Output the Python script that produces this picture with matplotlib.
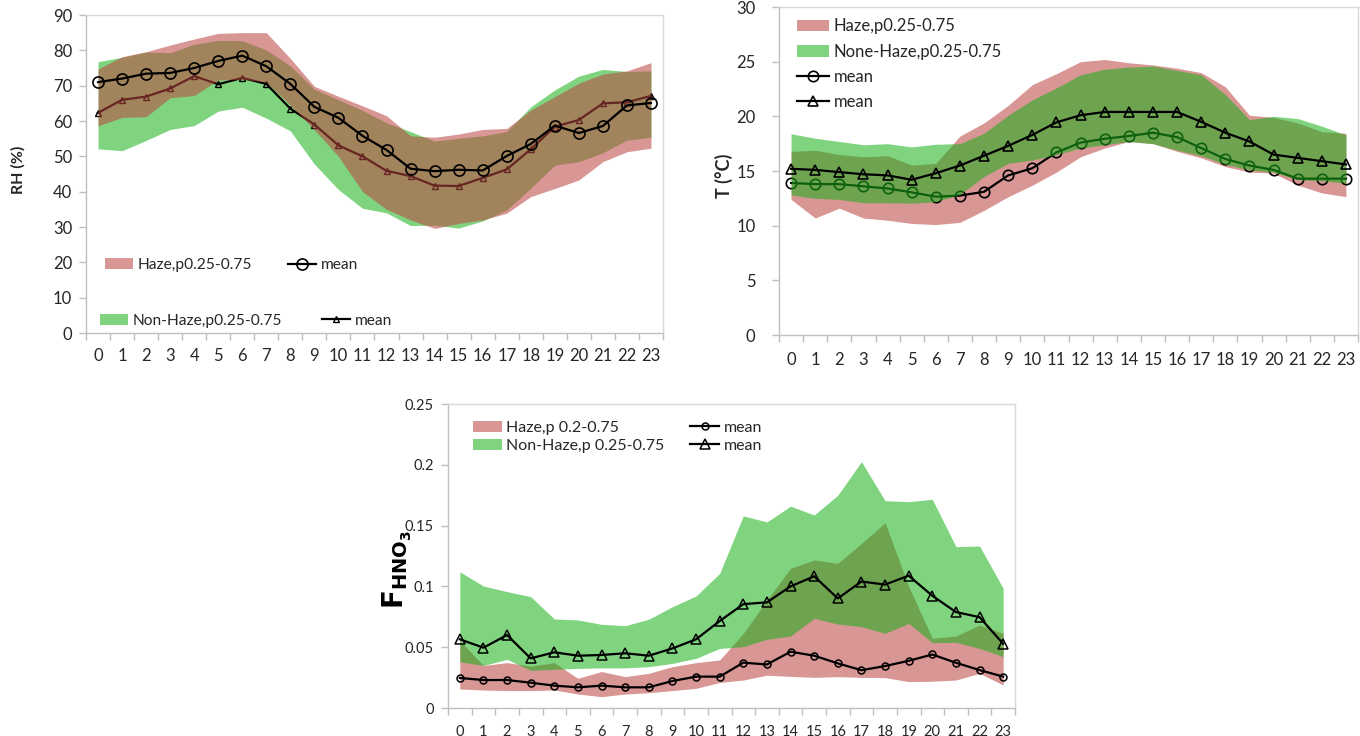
import numpy as np
import matplotlib
matplotlib.use("Agg")
import matplotlib.pyplot as plt

plt.rcParams['font.family'] = ['Lato', 'DejaVu Sans']

hours = list(range(24))
hour_labels = [str(h) for h in hours]

# ---------------- RH panel ----------------
rh_haze_mean = [71.0, 72.0, 73.4, 73.6, 75.0, 77.0, 78.5, 75.5, 70.5, 64.0, 60.9, 55.8,
                51.8, 46.5, 45.8, 46.2, 46.0, 50.1, 53.5, 58.7, 56.6, 58.6, 64.4, 65.1]
rh_non_mean = [62.3, 66.0, 66.9, 69.2, 72.7, 70.4, 72.2, 70.5, 63.5, 59.0, 53.1, 50.0,
               45.9, 44.4, 41.7, 41.6, 43.9, 46.3, 52.0, 58.4, 60.3, 65.0, 65.3, 67.1]
rh_haze_lo = [58.6, 61.0, 61.2, 66.6, 67.2, 71.6, 71.8, 71.0, 64.5, 57.5, 50.0, 40.0,
              35.0, 32.0, 29.6, 31.0, 32.0, 33.9, 38.6, 40.9, 43.3, 48.5, 51.3, 52.3]
rh_haze_hi = [74.7, 78.2, 79.6, 81.5, 83.2, 84.8, 85.0, 85.0, 77.7, 69.8, 67.0, 64.3,
              61.5, 55.8, 55.4, 56.3, 57.6, 57.9, 63.1, 66.9, 70.7, 73.3, 74.2, 76.5]
rh_non_lo = [52.1, 51.6, 54.5, 57.6, 58.7, 62.8, 63.9, 60.8, 57.2, 47.8, 40.6, 35.3,
             34.0, 30.4, 30.5, 29.7, 31.7, 34.8, 41.0, 47.5, 48.5, 51.0, 54.6, 55.4]
rh_non_hi = [76.8, 78.0, 79.5, 79.3, 81.7, 82.8, 82.7, 80.1, 75.6, 69.0, 66.0, 63.0,
             59.5, 57.0, 54.3, 55.1, 55.8, 57.0, 64.0, 68.8, 72.7, 74.6, 74.0, 74.2]
rh_yticks = [0, 10, 20, 30, 40, 50, 60, 70, 80, 90]
rh_yticklabels = ['0', '10', '20', '30', '40', '50', '60', '70', '80', '90']

# ---------------- T panel ----------------
t_haze_mean = [13.9, 13.8, 13.8, 13.6, 13.4, 13.05, 12.65, 12.75, 13.1, 14.6, 15.25, 16.7,
               17.6, 17.95, 18.2, 18.5, 18.1, 17.1, 16.1, 15.5, 15.1, 14.3, 14.3, 14.3]
t_non_mean = [15.2, 15.1, 14.9, 14.7, 14.6, 14.2, 14.8, 15.5, 16.4, 17.3, 18.3, 19.45,
              20.1, 20.4, 20.4, 20.4, 20.4, 19.5, 18.5, 17.7, 16.5, 16.2, 15.9, 15.6]
t_haze_lo = [12.4, 10.7, 11.6, 10.7, 10.5, 10.2, 10.1, 10.3, 11.4, 12.65, 13.7, 14.9,
             16.3, 17.1, 17.7, 17.5, 16.8, 16.2, 15.4, 14.9, 14.8, 13.7, 13.0, 12.65]
t_haze_hi = [16.8, 16.9, 16.5, 16.3, 16.4, 15.55, 15.7, 18.2, 19.4, 21.0, 22.9, 23.9,
             25.0, 25.2, 24.9, 24.7, 24.4, 24.0, 22.7, 20.1, 19.9, 19.4, 18.6, 18.45]
t_non_lo = [12.8, 12.5, 12.4, 12.1, 12.1, 12.05, 12.2, 12.85, 14.5, 15.7, 16.0, 16.5,
            17.1, 17.4, 17.7, 17.5, 16.9, 16.4, 15.6, 15.1, 14.9, 14.2, 14.1, 13.9]
t_non_hi = [18.4, 18.0, 17.7, 17.4, 17.5, 17.2, 17.45, 17.5, 18.45, 20.1, 21.5, 22.6,
            23.8, 24.3, 24.5, 24.6, 24.2, 23.8, 22.0, 19.7, 20.0, 19.8, 19.1, 18.3]
t_yticks = [0, 5, 10, 15, 20, 25, 30]
t_yticklabels = ['0', '5', '10', '15', '20', '25', '30']

# ---------------- F_HNO3 panel ----------------
f_haze_mean = [0.0247, 0.023, 0.023, 0.0208, 0.0184, 0.017, 0.0184, 0.017, 0.017, 0.0222, 0.0258, 0.0258,
               0.0373, 0.0358, 0.0463, 0.043, 0.0367, 0.0311, 0.0345, 0.0388, 0.044, 0.0372, 0.0312, 0.0258]
f_non_mean = [0.0565, 0.0496, 0.060, 0.0408, 0.0458, 0.043, 0.0436, 0.045, 0.043, 0.049, 0.0565, 0.0715,
              0.0854, 0.0869, 0.1, 0.1083, 0.0901, 0.104, 0.1015, 0.1088, 0.0923, 0.0789, 0.0747, 0.0528]
f_haze_lo = [0.0156, 0.0148, 0.0143, 0.0143, 0.0148, 0.0115, 0.0093, 0.0115, 0.0126, 0.0143, 0.0162, 0.021,
             0.023, 0.027, 0.026, 0.0252, 0.0258, 0.0252, 0.025, 0.0217, 0.022, 0.023, 0.0285, 0.0189]
f_haze_hi = [0.0553, 0.035, 0.0373, 0.0345, 0.0373, 0.0244, 0.030, 0.0258, 0.0285, 0.034, 0.0373, 0.0395,
             0.0614, 0.0888, 0.1149, 0.1217, 0.119, 0.1354, 0.1524, 0.100, 0.0573, 0.0592, 0.0683, 0.0614]
f_non_lo = [0.038, 0.035, 0.040, 0.031, 0.0318, 0.0326, 0.033, 0.033, 0.034, 0.0367, 0.0408, 0.049,
            0.0504, 0.0565, 0.0592, 0.0737, 0.069, 0.0669, 0.0614, 0.0696, 0.0537, 0.054, 0.049, 0.0422]
f_non_hi = [0.112, 0.1003, 0.0957, 0.0916, 0.0732, 0.0724, 0.0688, 0.0677, 0.073, 0.0833, 0.0921, 0.1107,
            0.158, 0.153, 0.166, 0.1587, 0.175, 0.2026, 0.1705, 0.1697, 0.1716, 0.1327, 0.1332, 0.0984]
f_yticks = [0, 0.05, 0.1, 0.15, 0.2, 0.25]
f_yticklabels = ['0', '0.05', '0.1', '0.15', '0.2', '0.25']

PINK = (187 / 255, 68 / 255, 64 / 255)
PINK_A = 0.56
GREEN = (24 / 255, 177 / 255, 24 / 255)
GREEN_A = 0.55
AXC = '#BFBFBF'
BORDER = '#D9D9D9'
TXT = '#262626'

W, H = 1360, 736
fig = plt.figure(figsize=(W / 100, H / 100), dpi=100)


def add_ax(x0, x1, ytop, ybot):
    return fig.add_axes([x0 / W, 1 - ybot / H, (x1 - x0) / W, (ybot - ytop) / H])


def style(ax, ymax, yticks, ylabels, xfs, yfs, xpad, ypad):
    ax.set_xlim(-0.5, 23.5)
    ax.set_ylim(0, ymax)
    for s in ['top', 'right']:
        ax.spines[s].set_color(BORDER)
        ax.spines[s].set_linewidth(1.0)
    for s in ['left', 'bottom']:
        ax.spines[s].set_color(AXC)
        ax.spines[s].set_linewidth(1.0)
    ax.set_xticks(hours)
    ax.set_xticklabels(hour_labels, fontsize=xfs, color=TXT)
    ax.set_xticks(np.arange(-0.5, 24, 1), minor=True)
    ax.tick_params(axis='x', which='major', length=0, pad=xpad)
    ax.tick_params(axis='x', which='minor', length=5, color=AXC, width=1)
    ax.set_yticks(yticks)
    ax.set_yticklabels(ylabels, fontsize=yfs, color=TXT)
    ax.tick_params(axis='y', length=5, color=AXC, width=1, pad=ypad)


# ---- RH ----
ax1 = add_ax(86, 663, 15, 333)
style(ax1, 90, rh_yticks, rh_yticklabels, 12, 12, 11, 5)
g1 = ax1.fill_between(hours, rh_non_lo, rh_non_hi, color=GREEN, alpha=GREEN_A, lw=0, zorder=1)
l1t, = ax1.plot(hours, rh_non_mean, color='black', lw=1.6, marker='^', ms=5,
                mfc='none', mec='black', mew=1.0, zorder=2)
p1 = ax1.fill_between(hours, rh_haze_lo, rh_haze_hi, color=PINK, alpha=PINK_A, lw=0, zorder=3)
l1c, = ax1.plot(hours, rh_haze_mean, color='black', lw=1.6, marker='o', ms=8,
                mfc='none', mec='black', mew=1.2, zorder=4)
leg_a = ax1.legend([p1, l1c], ['Haze,p0.25-0.75', 'mean'], ncol=2, loc='center left',
                   bbox_to_anchor=(0.033, 0.214), frameon=False, borderpad=0, borderaxespad=0,
                   handlelength=1.8, handletextpad=0.3, columnspacing=2.3, fontsize=11.2,
                   labelcolor=TXT)
ax1.add_artist(leg_a)
ax1.legend([g1, l1t], ['Non-Haze,p0.25-0.75', 'mean'], ncol=2, loc='center left',
           bbox_to_anchor=(0.024, 0.038), frameon=False, borderpad=0, borderaxespad=0,
           handlelength=1.8, handletextpad=0.3, columnspacing=2.6, fontsize=11.2,
           labelcolor=TXT)
fig.text(18 / W, 1 - 170 / H, 'RH (%)', rotation=90, ha='center', va='center',
         fontsize=11.5, fontweight='bold', color=TXT)

# ---- T ----
ax2 = add_ax(779, 1358, 7, 335)
style(ax2, 30, t_yticks, t_yticklabels, 12, 12, 12, 12)
p2 = ax2.fill_between(hours, t_haze_lo, t_haze_hi, color=PINK, alpha=PINK_A, lw=0, zorder=1)
l2c, = ax2.plot(hours, t_haze_mean, color='black', lw=1.6, marker='o', ms=7.5,
                mfc='none', mec='black', mew=1.2, zorder=2)
g2 = ax2.fill_between(hours, t_non_lo, t_non_hi, color=GREEN, alpha=GREEN_A, lw=0, zorder=3)
l2t, = ax2.plot(hours, t_non_mean, color='black', lw=1.6, marker='^', ms=7.5,
                mfc='none', mec='black', mew=1.2, zorder=4)
ax2.legend([p2, g2, l2c, l2t], ['Haze,p0.25-0.75', 'None-Haze,p0.25-0.75', 'mean', 'mean'],
           loc='upper left', bbox_to_anchor=(0.031, 0.965), frameon=False, borderpad=0,
           borderaxespad=0, handlelength=1.9, handletextpad=0.3, labelspacing=0.55,
           fontsize=12, labelcolor=TXT)
fig.text(724 / W, 1 - 176 / H, 'T (°C)', rotation=90, ha='center', va='center',
         fontsize=13, fontweight='bold', color=TXT)

# ---- F_HNO3 ----
ax3 = add_ax(448, 1015, 404, 708)
style(ax3, 0.25, f_yticks, f_yticklabels, 10.5, 10.5, 12, 5)
p3 = ax3.fill_between(hours, f_haze_lo, f_haze_hi, color=PINK, alpha=PINK_A, lw=0, zorder=1)
g3 = ax3.fill_between(hours, f_non_lo, f_non_hi, color=GREEN, alpha=GREEN_A, lw=0, zorder=2)
l3c, = ax3.plot(hours, f_haze_mean, color='black', lw=1.6, marker='o', ms=5,
                mfc='none', mec='black', mew=1.1, zorder=3)
l3t, = ax3.plot(hours, f_non_mean, color='black', lw=1.6, marker='^', ms=7,
                mfc='none', mec='black', mew=1.1, zorder=4)
ax3.legend([p3, g3, l3c, l3t], ['Haze,p 0.2-0.75', 'Non-Haze,p 0.25-0.75', 'mean', 'mean'],
           ncol=2, loc='upper left', bbox_to_anchor=(0.044, 0.945), frameon=False, borderpad=0,
           borderaxespad=0, handlelength=1.8, handletextpad=0.3, labelspacing=0.25,
           columnspacing=1.6, fontsize=11.5, labelcolor=TXT)
fig.text(397 / W, 1 - 570 / H, r'$\mathbf{F_{HNO_3}}$', rotation=90, ha='center', va='center',
         fontsize=20, color='black')

fig.savefig('out.png', dpi=100)
